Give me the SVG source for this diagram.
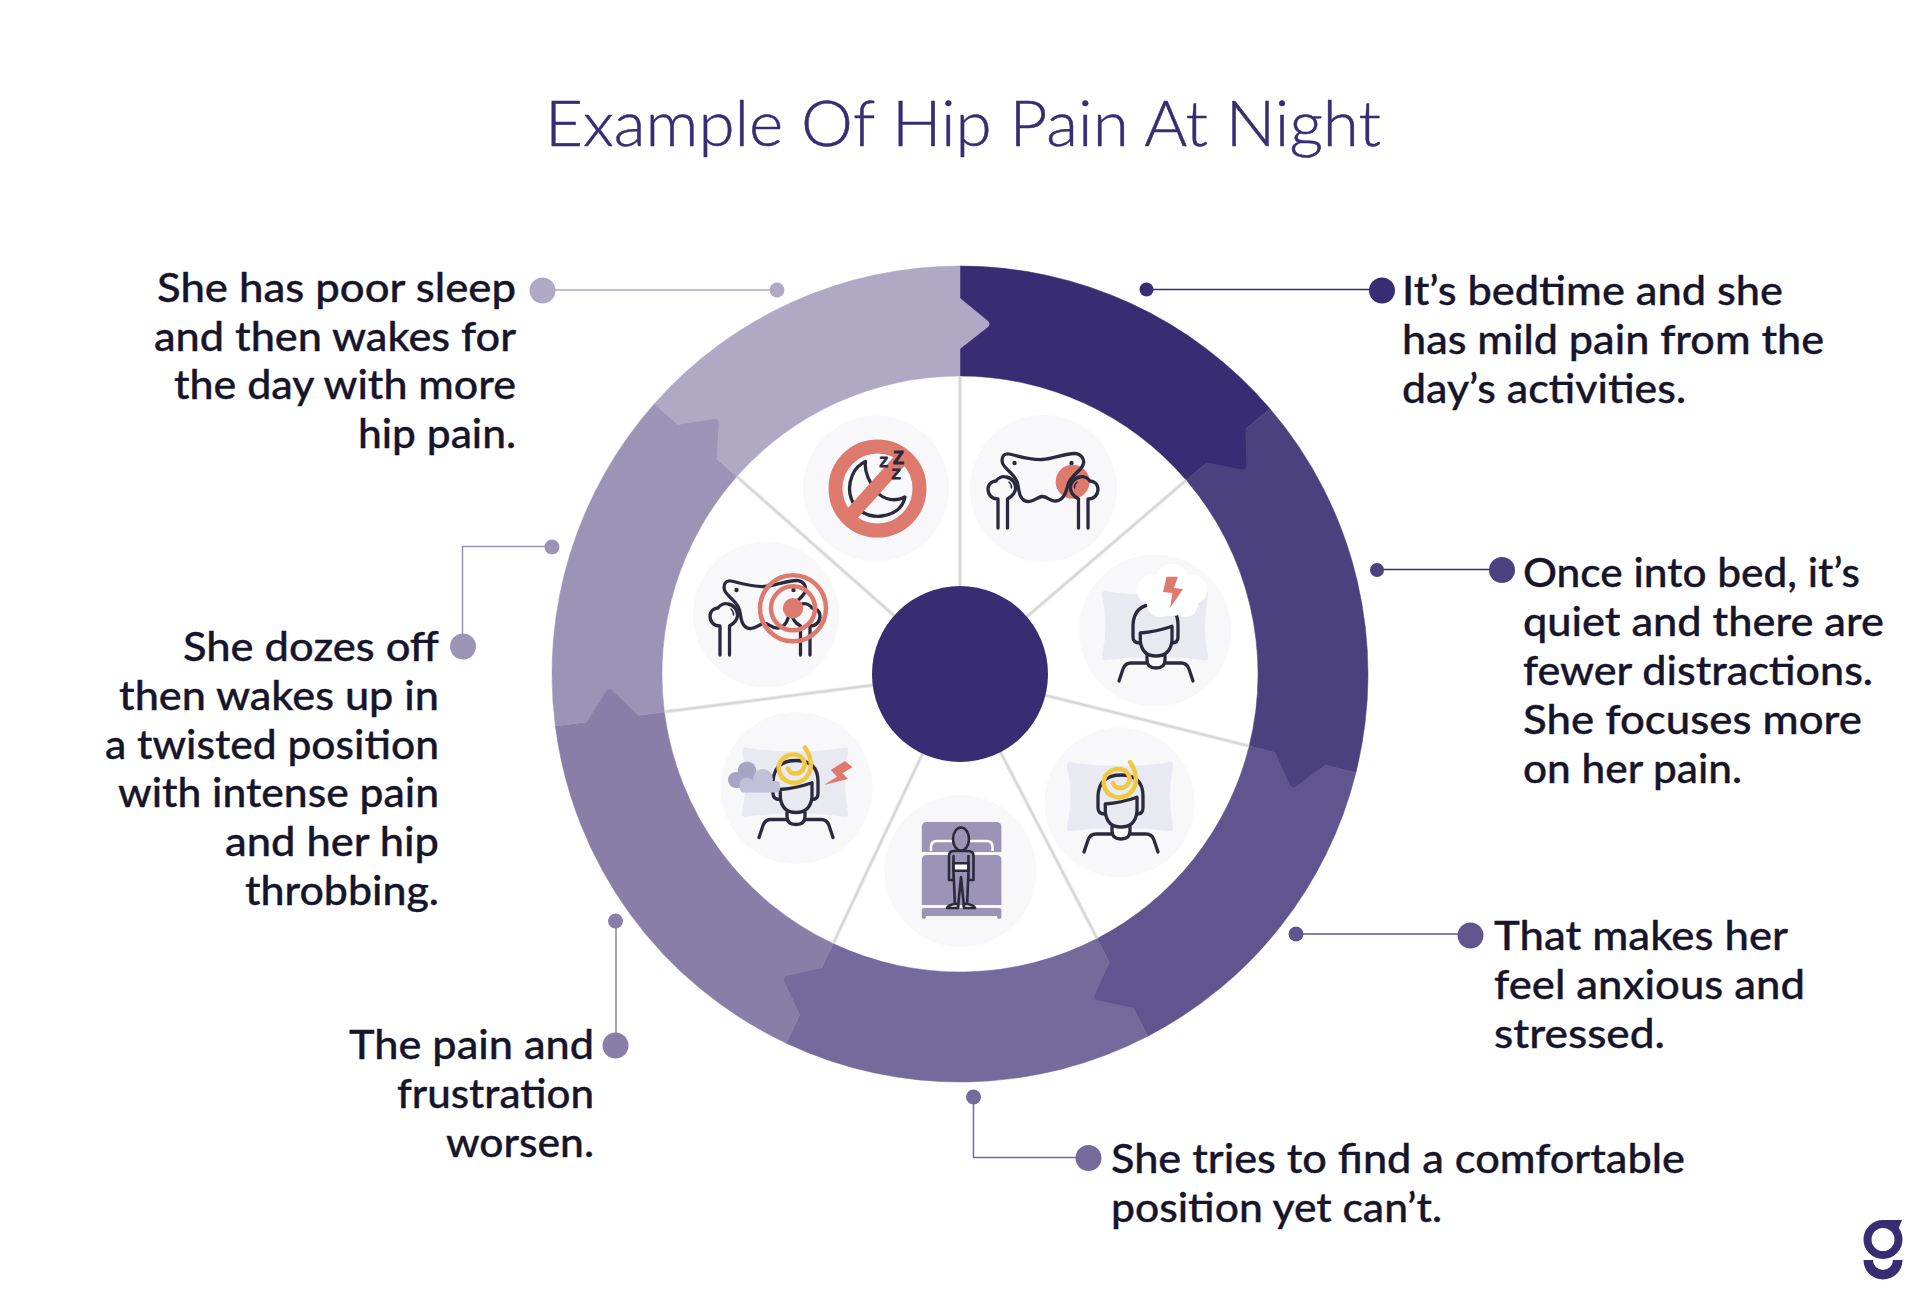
<svg xmlns="http://www.w3.org/2000/svg" xmlns:xlink="http://www.w3.org/1999/xlink" width="1920" height="1300" viewBox="0 0 1920 1300">
<style>
.c1{fill:#382c73}.c2{fill:#4c417f}.c3{fill:#60558e}.c4{fill:#746a9b}.c5{fill:#887ea8}.c6{fill:#9c94b7}.c7{fill:#afa9c6}
.l1{stroke:#382c73}.l2{stroke:#382c73}.l3{stroke:#60558e}.l4{stroke:#746a9b}.l5{stroke:#887ea8}.l6{stroke:#9c94b7}.l7{stroke:#afa9c6}
.ln{fill:none;stroke-width:1.5}
.t{font-family:"Lato","Liberation Sans",sans-serif;font-size:41px;font-weight:500;fill:#16152b;stroke:#16152b;stroke-width:.35px}
.title{font-family:"Lato","Liberation Sans",sans-serif;font-size:64px;font-weight:300;fill:#382c73;stroke:#382c73;stroke-width:.5px}
.bg{fill:#f8f8fb}
.k{fill:none;stroke:#2b2a3c;stroke-width:3.3;stroke-linecap:round;stroke-linejoin:round}
.r{fill:#de7a6d}
.rs{fill:none;stroke:#de7a6d}
.sp{stroke:#d6d6d6;stroke-width:3;filter:url(#soft)}
.z{font-family:"Liberation Sans",sans-serif;font-weight:700;fill:#2b2a3c;stroke:#2b2a3c;stroke-width:.8}
</style>
<defs>
<filter id="soft" x="-20%" y="-20%" width="140%" height="140%" filterUnits="userSpaceOnUse"><feGaussianBlur stdDeviation="0.7"/></filter>
<path id="tip" d="M957 298H960L988 321Q991 324 988 327L960 349H957Z"/>
<g id="hip">
<path class="k" d="M1009 454C1018 456 1030 460 1042 459.5C1054 459 1066 453 1075 453.5C1082 454 1085 460 1083 465C1080 472 1070 476 1068 485C1066 492 1064 500 1056 501C1050 502 1047 496 1042 496.5C1037 497 1034 502 1028 501.5C1020 501 1019 492 1018 485C1017 475 1005 470 1002.5 463C1001 457 1004 453 1009 454Z"/>
<circle cx="1014.5" cy="463" r="2.2" fill="#2b2a3c"/><circle cx="1071.5" cy="463" r="2.2" fill="#2b2a3c"/>
<g id="femur"><path class="k" d="M998 528V499C992 499 988 495 988 489C988 484 992 481 996 481C998 478 1002 476 1006 477C1012 478 1016 483 1015.5 489C1015 494 1011 497 1007.5 499V528"/><path class="k" style="stroke-width:1.5" d="M1009 482Q1012 485 1011.5 488"/></g>
<use xlink:href="#femur" href="#femur" transform="translate(2086 0) scale(-1 1)"/>
</g>
<g id="head">
<path fill="#e9e9f1" d="M-52-38Q0-30 50-38Q53-38 52-34Q46-4 52 27Q53 32 48 31Q0 25-50 31Q-55 32-54 27Q-47-4-54-34Q-54-38-52-38Z"/>
<path class="k" d="M-16 14Q-23 14-23 8V-4Q-22-25 0-25Q22-25 22-4V8Q22 14 16 14"/>
<path class="k" d="M-15.7 4Q0 3 16-2.7V12Q14 27 0 27Q-14 27-15.7 12Z"/>
<path class="k" d="M-9 27V31Q-9 39 0 39Q9 39 9 31V27"/>
<path class="k" d="M-37 52L-33 40Q-31 34-25 34H-9M9 34H25Q31 34 33 40L37 52"/>
</g>
<path id="spiral" fill="none" stroke="#f1c83f" stroke-width="4.5" stroke-linecap="round" d="M9-38C16-28 18-14 8-6C-2 1-15-4-17-15C-19-25-9-32-1-31C7-30 11-22 7-16C3-10-6-11-8-17"/>
</defs>
<rect width="1920" height="1300" fill="#fff"/>
<text class="title" x="545" y="146" textLength="836" lengthAdjust="spacingAndGlyphs">Example Of Hip Pain At Night</text>

<g id="wheel">
<path class="c1" stroke="#382c73" stroke-width=".5" d="M960 266A408 408 0 0 1 1269.9 408.6L1186.3 480.2A298 298 0 0 0 960 376Z"/>
<path class="c2" stroke="#4c417f" stroke-width=".5" d="M1269.9 408.6A408 408 0 0 1 1355.9 772.7L1249.2 746.1A298 298 0 0 0 1186.3 480.2Z"/>
<path class="c3" stroke="#60558e" stroke-width=".5" d="M1355.9 772.7A408 408 0 0 1 1147.8 1036.2L1097.1 938.6A298 298 0 0 0 1249.2 746.1Z"/>
<path class="c4" stroke="#746a9b" stroke-width=".5" d="M1147.8 1036.2A408 408 0 0 1 786.3 1043.2L833.1 943.6A298 298 0 0 0 1097.1 938.6Z"/>
<path class="c5" stroke="#887ea8" stroke-width=".5" d="M786.3 1043.2A408 408 0 0 1 555.3 725.9L664.4 711.9A298 298 0 0 0 833.1 943.6Z"/>
<path class="c6" stroke="#9c94b7" stroke-width=".5" d="M555.3 725.9A408 408 0 0 1 654.4 403.7L736.8 476.5A298 298 0 0 0 664.4 711.9Z"/>
<path class="c7" stroke="#afa9c6" stroke-width=".5" d="M654.4 403.7A408 408 0 0 1 960 266L960 376A298 298 0 0 0 736.8 476.5Z"/>
<use href="#tip" class="c7"/>
<use href="#tip" class="c1" transform="rotate(49.4 960 674)"/>
<use href="#tip" class="c2" transform="rotate(104 960 674)"/>
<use href="#tip" class="c3" transform="rotate(152.6 960 674)"/>
<use href="#tip" class="c4" transform="rotate(205.2 960 674)"/>
<use href="#tip" class="c5" transform="rotate(262.7 960 674)"/>
<use href="#tip" class="c6" transform="rotate(311.5 960 674)"/>
<line class="sp" x1="960" y1="376" x2="960" y2="590"/>
<line class="sp" x1="960" y1="376" x2="960" y2="590" transform="rotate(49.4 960 674)"/>
<line class="sp" x1="960" y1="376" x2="960" y2="590" transform="rotate(104 960 674)"/>
<line class="sp" x1="960" y1="376" x2="960" y2="590" transform="rotate(152.6 960 674)"/>
<line class="sp" x1="960" y1="376" x2="960" y2="590" transform="rotate(205.2 960 674)"/>
<line class="sp" x1="960" y1="376" x2="960" y2="590" transform="rotate(262.7 960 674)"/>
<line class="sp" x1="960" y1="376" x2="960" y2="590" transform="rotate(311.5 960 674)"/>
<circle class="c1" cx="960" cy="674" r="88"/>
</g>

<g id="connectors">
<path class="ln l1" d="M1147 289.5H1382"/>
<path class="ln l2" d="M1377 569.5H1502"/>
<path class="ln l3" d="M1296 934H1470"/>
<path class="ln l4" d="M973.5 1097V1157.5H1088"/>
<path class="ln l5" d="M616 920V1045"/>
<path class="ln l6" d="M552 546.5H462.5V646"/>
<path class="ln l7" d="M777 290H542"/>
<circle class="c1" cx="1146.5" cy="289.5" r="7"/>
<circle class="c2" cx="1377" cy="570" r="7"/>
<circle class="c3" cx="1296" cy="934" r="7.5"/>
<circle class="c4" cx="973.5" cy="1097" r="7.5"/>
<circle class="c5" cx="615.5" cy="921" r="7.5"/>
<circle class="c6" cx="552" cy="547" r="7.5"/>
<circle class="c7" cx="777" cy="290" r="7.5"/>
</g>

<g id="node-1">
<circle class="bg" cx="1043.5" cy="488.5" r="73.5"/>
<circle class="r" cx="1072.6" cy="481.7" r="17"/>
<use href="#hip"/>
<circle class="c1" cx="1382" cy="290.5" r="13"/>
<text class="t" x="1402" y="305" textLength="381" lengthAdjust="spacingAndGlyphs">It’s bedtime and she</text>
<text class="t" x="1402" y="354" textLength="422" lengthAdjust="spacingAndGlyphs">has mild pain from the</text>
<text class="t" x="1402" y="403" textLength="284" lengthAdjust="spacingAndGlyphs">day’s activities.</text>
</g>

<g id="node-2">
<circle class="bg" cx="1155" cy="630.5" r="76"/>
<use href="#head" transform="translate(1156 629)"/>
<g fill="#fff"><circle cx="1172" cy="582" r="18"/><circle cx="1152" cy="590" r="15"/><circle cx="1192" cy="590" r="15"/><circle cx="1160" cy="604" r="13"/><circle cx="1185" cy="604" r="13"/><circle cx="1172" cy="596" r="20"/></g>
<polygon class="r" points="1166.5,576.7 1178,576.7 1174,588 1183,589 1170,608 1172.5,593 1163,592"/>
<circle class="c2" cx="1502" cy="570" r="13"/>
<text class="t" x="1523" y="587" textLength="337" lengthAdjust="spacingAndGlyphs">Once into bed, it’s</text>
<text class="t" x="1523" y="636" textLength="361" lengthAdjust="spacingAndGlyphs">quiet and there are</text>
<text class="t" x="1523" y="685" textLength="350" lengthAdjust="spacingAndGlyphs">fewer distractions.</text>
<text class="t" x="1523" y="734" textLength="339" lengthAdjust="spacingAndGlyphs">She focuses more</text>
<text class="t" x="1523" y="783" textLength="219" lengthAdjust="spacingAndGlyphs">on her pain.</text>
</g>

<g id="node-3">
<circle class="bg" cx="1119.5" cy="802.5" r="75"/>
<use href="#head" transform="translate(1121 800)"/>
<use href="#spiral" transform="translate(1121 800)"/>
<circle class="c3" cx="1470.5" cy="935.5" r="13"/>
<text class="t" x="1494" y="950" textLength="294" lengthAdjust="spacingAndGlyphs">That makes her</text>
<text class="t" x="1494" y="999" textLength="311" lengthAdjust="spacingAndGlyphs">feel anxious and</text>
<text class="t" x="1494" y="1048" textLength="171" lengthAdjust="spacingAndGlyphs">stressed.</text>
</g>

<g id="node-4">
<circle class="bg" cx="960.5" cy="871" r="76"/>
<path class="c6" d="M921.8 852V827Q921.8 822 927 822H996Q1001.4 822 1001.4 827V852Z"/>
<path fill="none" stroke="#fff" stroke-width="2.5" d="M931 851V847Q931 841 937 841H958M969 841H987Q992.5 841 992.5 847V851"/>
<path class="c6" d="M921.8 905V860Q921.8 855 927 855H996Q1001.4 855 1001.4 860V905Z"/>
<path class="c6" d="M921.8 910Q921.8 908 924 908H999Q1001.4 908 1001.4 910V917Q1001.4 919 999 919Q997 919 997 916H926Q926 919 924 919Q921.8 919 921.8 917Z"/>
<g class="k" style="stroke-width:2.6">
<ellipse cx="961" cy="839" rx="8" ry="11.5" fill="#9c94b7"/>
<path fill="#9c94b7" d="M949 880V856Q949 851 954 851H968Q973.5 851 973.5 856V880H968.5V871L967 907H964L961 877L958 907H955L953.5 871V880Z"/>
<rect x="953.5" y="863.3" width="15" height="7.5" fill="#fff"/>
<path d="M953.5 856V871M968.5 856V871"/>
<path fill="#fff" d="M947 908Q948 905 955 904L958 904V908ZM975 908Q974 905 967 904L964 904V908Z"/>
</g>
<circle class="c4" cx="1088.5" cy="1158" r="13"/>
<text class="t" x="1111" y="1172.5" textLength="574" lengthAdjust="spacingAndGlyphs">She tries to find a comfortable</text>
<text class="t" x="1111" y="1221.5" textLength="331" lengthAdjust="spacingAndGlyphs">position yet can’t.</text>
</g>

<g id="node-5">
<circle class="bg" cx="796.5" cy="788" r="76"/>
<use href="#head" transform="translate(796 785.5)"/>
<use href="#spiral" transform="translate(796 785.5)"/>
<g fill="#a8a4c4"><circle cx="736" cy="780" r="8"/><circle cx="747" cy="771" r="9.5"/><rect x="733" y="774" width="22" height="14" rx="6"/></g>
<g fill="#c2bfd8"><circle cx="747" cy="785" r="7.5"/><circle cx="763" cy="779" r="10"/><rect x="740" y="781" width="40" height="11.5" rx="4"/></g>
<polygon class="r" points="845,761 852.5,767.3 842.5,773.3 848,779 824,785 837,776.7 830.7,770"/>
<circle class="c5" cx="615.5" cy="1045.5" r="13"/>
<text class="t" x="349" y="1058.5" textLength="245" lengthAdjust="spacingAndGlyphs">The pain and</text>
<text class="t" x="397" y="1107.5" textLength="197" lengthAdjust="spacingAndGlyphs">frustration</text>
<text class="t" x="446" y="1156.5" textLength="148" lengthAdjust="spacingAndGlyphs">worsen.</text>
</g>

<g id="node-6">
<circle class="bg" cx="766" cy="614.5" r="73"/>
<use href="#hip" transform="translate(-278 127)"/>
<circle class="rs" cx="793" cy="608.3" r="33" stroke-width="4.5"/>
<circle class="rs" cx="793" cy="608.3" r="22" stroke-width="4.5"/>
<circle class="r" cx="793" cy="608.3" r="10.2"/>
<circle class="c6" cx="463" cy="646.5" r="13"/>
<text class="t" x="183" y="660.5" textLength="256" lengthAdjust="spacingAndGlyphs">She dozes off</text>
<text class="t" x="119" y="709.5" textLength="320" lengthAdjust="spacingAndGlyphs">then wakes up in</text>
<text class="t" x="105" y="758.5" textLength="334" lengthAdjust="spacingAndGlyphs">a twisted position</text>
<text class="t" x="118" y="807" textLength="321" lengthAdjust="spacingAndGlyphs">with intense pain</text>
<text class="t" x="225" y="856" textLength="214" lengthAdjust="spacingAndGlyphs">and her hip</text>
<text class="t" x="245" y="905" textLength="194" lengthAdjust="spacingAndGlyphs">throbbing.</text>
</g>

<g id="node-7">
<circle class="bg" cx="876" cy="488.5" r="73"/>
<path class="k" d="M865.5 461.5C853 467 848 482 850 494C853 510 868 518 882 516C895 514 903 507 905 497C895 502 884 500 877 492C870 484 864 472 865.5 461.5Z"/>
<circle class="rs" cx="877.5" cy="488.5" r="42" stroke-width="14"/>
<path class="rs" stroke-width="14" d="M904 456L851 515"/>
<text class="z" x="893" y="464" font-size="18">Z</text>
<text class="z" x="879.5" y="467" font-size="14">Z</text>
<text class="z" x="891.5" y="479" font-size="15">Z</text>
<circle class="c7" cx="542.5" cy="290.5" r="13"/>
<text class="t" x="157" y="302" textLength="359" lengthAdjust="spacingAndGlyphs">She has poor sleep</text>
<text class="t" x="154" y="350.5" textLength="362" lengthAdjust="spacingAndGlyphs">and then wakes for</text>
<text class="t" x="174" y="399" textLength="342" lengthAdjust="spacingAndGlyphs">the day with more</text>
<text class="t" x="358" y="448" textLength="158" lengthAdjust="spacingAndGlyphs">hip pain.</text>
</g>

<g id="logo" fill="#382c73">
<circle cx="1883" cy="1239.5" r="15.5" fill="none" stroke="#382c73" stroke-width="8"/>
<path d="M1884 1220H1902L1897 1232Z"/>
<path d="M1863.5 1260A19.5 19.5 0 0 0 1902.5 1260H1893A10 10 0 0 1 1873 1260Z"/>
</g>
</svg>
